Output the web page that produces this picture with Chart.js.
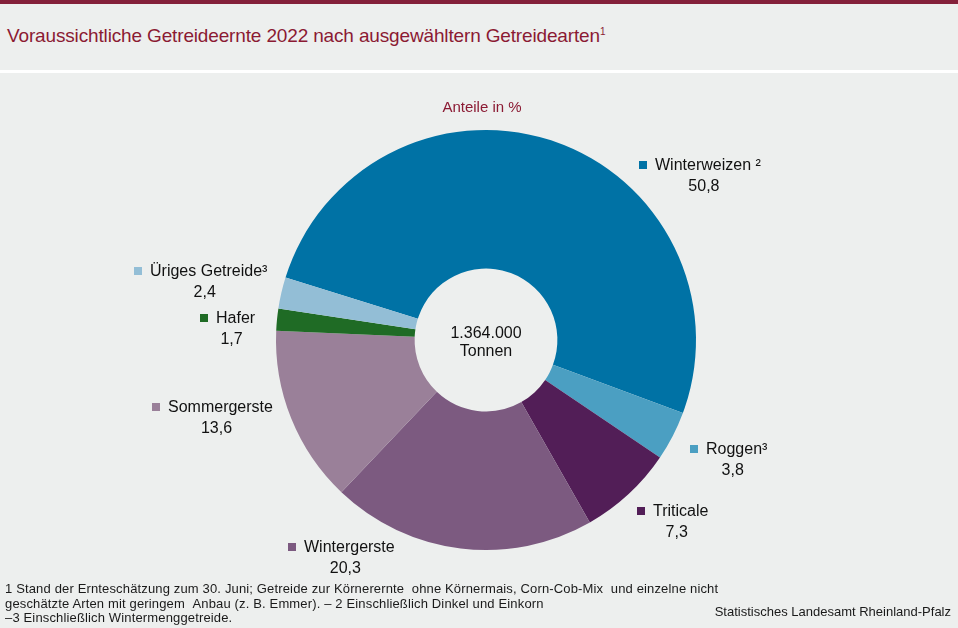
<!DOCTYPE html>
<html lang="de">
<head>
<meta charset="utf-8">
<script src="https://cdn.jsdelivr.net/npm/chart.js@4.4.0/dist/chart.umd.min.js"></script>
<style>
    html, body { margin: 0; padding: 0; }
    body {
        width: 958px; height: 628px; position: relative; overflow: hidden;
        background: #edefee; font-family: "Liberation Sans", Arial, sans-serif;
    }
    .topbar { position: absolute; left: 0; top: 0; width: 958px; height: 4px; background: #84203a; }
    .title {
        position: absolute; left: 7px; top: 25px; font-size: 19px; color: #8b1a33;
        letter-spacing: -0.15px; white-space: nowrap;
    }
    .title sup { font-size: 10px; vertical-align: 7px; }
    .sep { position: absolute; left: 0; top: 70px; width: 958px; height: 3px; background: #ffffff; }
    #chart { position: absolute; left: 0; top: 0; }
    .foot {
        position: absolute; left: 5px; top: 582px; font-size: 13px; line-height: 14.5px; color: #1a1a1a;
        white-space: nowrap; letter-spacing: 0.15px;
    }
    .source { position: absolute; right: 7px; top: 604px; font-size: 13px; color: #1a1a1a; }
</style>
</head>
<body>
<div class="topbar"></div>
<div class="title">Voraussichtliche Getreideernte 2022 nach ausgewähltern Getreidearten<sup>1</sup></div>
<div class="sep"></div>
<canvas id="chart" width="958" height="628"></canvas>
<div class="foot">1 Stand der Ernteschätzung zum 30. Juni; Getreide zur Körnerernte &nbsp;ohne Körnermais, Corn-Cob-Mix &nbsp;und einzelne nicht<br>geschätzte Arten mit geringem &nbsp;Anbau (z. B. Emmer). – 2 Einschließlich Dinkel und Einkorn<br>–3 Einschließlich Wintermenggetreide.</div>
<div class="source">Statistisches Landesamt Rheinland-Pfalz</div>
<script>
// Data
const categories = ['Winterweizen ²', 'Roggen³', 'Triticale', 'Wintergerste', 'Sommergerste', 'Hafer', 'Üriges Getreide³'];
const shares = [50.8, 3.8, 7.3, 20.3, 13.6, 1.7, 2.4];
const colors = ['#0072a5', '#4b9fc2', '#521e57', '#7c5a80', '#9a8099', '#1f6b25', '#93bed6'];
const centerText = ['1.364.000', 'Tonnen'];
const subtitle = 'Anteile in %';

// Label placement (offset of square from chart centre)
const labelOffsets = [
    [153, -175], [204, 109], [151, 171], [-198, 207],
    [-334, 67], [-286, -22], [-352, -69]
];

// Helper: format number with German comma
function formatShare(v) {
    return v.toFixed(1).replace('.', ',');
}

const labelPlugin = {
    id: 'sliceLabels',
    afterDraw(chart) {
        const ctx = chart.ctx;
        const arc = chart.getDatasetMeta(0).data[0];
        const cx = arc.x, cy = arc.y;

        ctx.save();
        // subtitle
        ctx.fillStyle = '#8b1a33';
        ctx.font = '15px "Liberation Sans", Arial, sans-serif';
        ctx.textAlign = 'center';
        ctx.textBaseline = 'middle';
        ctx.fillText(subtitle, cx - 4, 108);

        // centre text
        ctx.fillStyle = '#111111';
        ctx.font = '16px "Liberation Sans", Arial, sans-serif';
        ctx.fillText(centerText[0], cx, cy - 6);
        ctx.fillText(centerText[1], cx, cy + 12);

        // slice labels
        categories.forEach((name, i) => {
            const x = cx + labelOffsets[i][0];
            const y = cy + labelOffsets[i][1];
            ctx.font = '16px "Liberation Sans", Arial, sans-serif';
            const w = ctx.measureText(name).width;
            ctx.fillStyle = colors[i];
            ctx.fillRect(x, y - 4, 8, 8);
            ctx.fillStyle = '#111111';
            ctx.textAlign = 'left';
            ctx.fillText(name, x + 16, y + 1);
            ctx.textAlign = 'center';
            ctx.fillText(formatShare(shares[i]), x + (16 + w) / 2 + 4, y + 22);
        });
        ctx.restore();
    }
};

new Chart(document.getElementById('chart'), {
    type: 'doughnut',
    data: {
        labels: categories,
        datasets: [{
            data: shares,
            backgroundColor: colors,
            borderWidth: 0
        }]
    },
    options: {
        responsive: false,
        animation: false,
        rotation: -72.7,
        cutout: '34%',
        layout: { padding: { left: 276, right: 262, top: 130, bottom: 78 } },
        plugins: {
            legend: { display: false },
            tooltip: { enabled: false }
        }
    },
    plugins: [labelPlugin]
});
</script>
</body>
</html>
